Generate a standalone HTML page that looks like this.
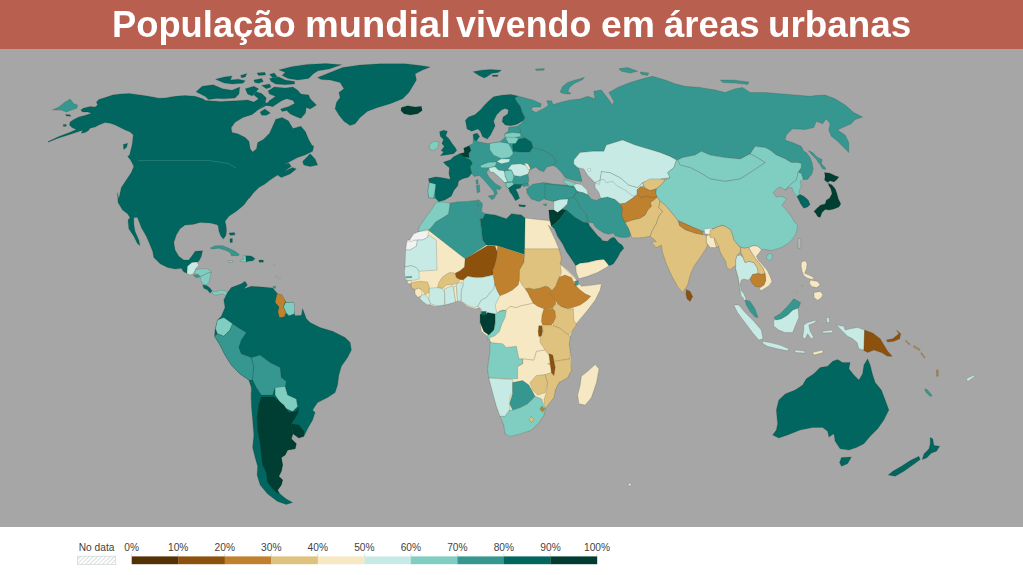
<!DOCTYPE html>
<html lang="pt"><head><meta charset="utf-8"><title>População mundial vivendo em áreas urbanas</title>
<style>
html,body{margin:0;padding:0;background:#fff;}
body{width:1023px;height:575px;position:relative;overflow:hidden;font-family:"Liberation Sans",sans-serif;}
#hdr{position:absolute;left:0;top:0;width:1023px;height:48.5px;background:#B85F4F;}
#ttl{position:absolute;left:0;top:3.5px;width:1023px;height:40px;line-height:40px;color:#fff;font-weight:bold;font-size:37.2px;white-space:nowrap;}
#ttl span{position:absolute;top:0;display:inline-block;transform-origin:0 50%;}
#map{position:absolute;left:0;top:48.5px;width:1023px;height:478px;background:#A6A6A6;}
#mapsvg{position:absolute;left:0;top:0;}
</style></head><body>
<div id="hdr"></div><div id="ttl"><span style="left:112.10px;transform:scaleX(0.9770)">População</span> <span style="left:304.66px;transform:scaleX(1.0223)">mundial</span> <span style="left:456.43px;transform:scaleX(0.9627)">vivendo</span> <span style="left:600.70px;transform:scaleX(1.0039)">em</span> <span style="left:663.75px;transform:scaleX(0.9846)">áreas</span> <span style="left:768.45px;transform:scaleX(0.9902)">urbanas</span></div>
<div id="map"></div>
<svg id="mapsvg" width="1023" height="575" viewBox="0 0 1023 575">
<defs><filter id="sb" x="-2%" y="-2%" width="104%" height="104%"><feGaussianBlur stdDeviation="0.55"/></filter></defs>
<g filter="url(#sb)" stroke-linejoin="round" stroke-width="0.6" stroke="rgba(50,55,40,0.30)">
<polygon fill="#01665E" points="48.1,141.6 58.8,136.6 70.1,132.2 76.3,129.5 71.9,127.6 69.4,125.1 70.1,121.9 73.8,119.4 78.8,116.9 86.3,115.1 91.4,113.2 87.6,111.9 82.6,111.9 80.7,110.1 83.2,108.2 90.1,106.5 95.1,106.9 97.6,105.0 96.4,101.9 98.9,99.4 105.1,97.5 112.6,95.0 120.2,94.0 128.9,93.5 136.4,94.4 144.0,95.6 152.7,96.9 159.0,98.2 165.1,98.0 175.1,96.3 185.1,95.5 195.2,96.3 202.7,98.8 205.4,100.4 221.0,101.5 236.7,100.7 247.6,99.9 253.9,102.0 258.6,98.8 253.9,94.9 256.2,91.8 261.7,93.4 266.4,98.1 264.8,103.5 260.1,108.2 252.3,114.5 242.9,117.6 235.1,122.3 231.2,127.8 232.0,132.5 237.7,133.8 245.2,137.6 249.0,141.3 250.2,148.8 252.7,152.1 256.5,148.8 257.7,142.6 263.3,139.5 269.5,133.3 272.7,126.2 275.8,119.2 282.1,117.6 288.3,120.8 293.0,128.6 300.9,126.2 305.5,131.7 308.7,139.5 311.8,145.0 313.8,146.3 312.6,151.3 305.1,155.1 297.6,157.6 290.1,161.4 283.8,165.1 288.8,163.1 291.3,166.4 283.8,171.4 292.6,167.6 296.3,168.9 290.1,173.9 281.3,177.6 277.5,175.1 270.0,180.1 265.0,183.9 258.8,187.6 253.8,192.6 248.8,198.9 250.2,196.3 243.9,205.0 236.4,211.3 228.9,216.3 225.1,221.3 225.9,225.0 226.6,230.1 225.9,235.6 223.4,239.1 220.9,236.3 218.9,231.3 218.1,225.5 216.4,224.5 210.1,223.0 200.1,222.5 192.6,224.5 185.1,225.0 180.1,228.8 176.3,235.1 173.8,242.6 175.1,250.1 178.8,256.3 183.8,260.1 188.8,260.1 192.6,255.1 195.1,251.3 202.6,250.8 201.4,256.3 198.8,261.3 197.1,262.1 192.1,262.6 187.6,266.3 187.1,273.3 183.8,272.1 181.3,268.3 175.1,269.1 167.6,267.6 160.1,263.8 153.8,257.6 152.6,251.3 150.1,245.1 146.3,236.3 141.3,227.5 137.5,217.5 133.8,217.5 133.8,223.8 135.0,231.3 138.8,240.1 140.0,245.6 137.5,243.8 133.8,236.3 128.8,228.8 128.0,220.0 130.0,217.5 127.5,213.8 122.5,210.0 118.0,202.5 117.5,192.5 118.8,199.0 118.8,198.9 121.3,187.6 126.3,180.1 131.3,172.6 133.8,166.4 130.6,160.1 127.6,156.4 129.6,155.1 130.8,150.1 132.1,145.1 132.7,140.1 133.3,135.1 130.2,132.0 125.2,130.1 120.2,127.6 115.2,125.1 110.1,123.2 105.1,122.6 98.9,125.1 95.1,127.0 90.1,128.2 88.2,130.7 85.1,132.6 81.3,133.2 82.6,130.3 78.8,131.6 71.3,134.1 58.8,137.9 48.1,142.2"/>
<polygon fill="#01665E" points="196.0,91.8 202.2,86.3 213.2,84.7 222.6,88.7 232.0,90.2 239.8,87.1 239.0,94.1 235.1,98.1 224.1,98.8 216.3,98.5 208.5,99.6 205.4,96.5"/>
<polygon fill="#01665E" points="215.5,79.3 224.1,76.9 232.0,76.1 230.4,80.0 238.2,79.3 245.3,80.8 242.9,83.2 232.0,84.0 224.1,82.9"/>
<polygon fill="#01665E" points="240.6,75.4 246.8,73.5 245.3,76.9 241.4,77.7"/>
<polygon fill="#01665E" points="253.9,80.0 261.7,78.5 263.3,81.6 258.6,83.2 254.7,82.4"/>
<polygon fill="#01665E" points="257.0,73.0 264.8,72.2 265.6,75.0 258.6,75.4"/>
<polygon fill="#01665E" points="245.3,88.7 253.9,86.3 258.6,88.7 255.5,92.6 252.3,96.0 247.6,94.1"/>
<polygon fill="#01665E" points="261.7,85.5 269.5,84.0 271.1,87.1 266.4,88.7"/>
<polygon fill="#01665E" points="268.0,91.0 274.2,87.1 285.2,87.9 293.0,87.1 297.7,90.2 300.9,94.1 308.7,94.9 310.2,98.8 316.5,105.1 310.2,109.0 306.3,107.4 305.5,112.9 300.9,118.4 294.6,116.1 289.9,113.7 286.8,110.6 282.1,111.4 280.5,109.0 288.3,106.7 294.6,103.5 293.0,100.4 286.8,98.8 282.1,100.4 277.4,103.5 272.7,106.7 266.4,105.1 269.5,100.4 275.8,96.5 269.5,94.1"/>
<polygon fill="#01665E" points="269.5,78.5 278.9,76.9 285.2,80.0 294.6,81.6 294.6,84.0 285.2,84.7 275.8,84.0 271.1,81.6"/>
<polygon fill="#01665E" points="278.9,69.9 291.5,66.7 307.1,64.4 325.9,63.6 341.6,64.7 329.0,69.1 318.1,70.7 313.4,73.8 308.7,78.5 297.7,80.0 288.3,78.5 282.1,75.4 285.2,72.2"/>
<polygon fill="#01665E" points="269.5,74.6 274.2,73.0 277.4,76.9 272.7,77.7"/>
<polygon fill="#01665E" points="260.1,112.1 264.8,109.0 270.3,112.9 266.4,115.3 261.7,115.3"/>
<polygon fill="#01665E" points="302.6,161.4 310.1,153.8 315.1,158.9 317.6,165.1 310.1,166.4 303.8,165.1"/>
<polygon fill="#01665E" points="317.6,77.5 330.1,72.5 342.6,67.5 360.1,65.0 380.2,63.8 405.2,63.8 420.2,65.5 430.2,67.0 422.7,70.0 415.2,73.8 416.4,80.0 412.7,86.3 408.9,92.5 402.7,98.8 390.2,103.8 377.6,107.6 367.6,111.3 360.1,117.6 355.1,123.8 350.1,125.6 343.9,121.3 338.9,115.1 335.1,108.8 336.4,102.5 340.1,97.5 338.9,92.5 343.9,88.8 340.1,82.5 330.1,80.0 321.3,79.5"/>
<polygon fill="#003C30" points="401.4,107.6 407.7,105.8 415.2,107.1 421.4,106.3 422.2,110.6 417.7,113.8 410.2,115.1 403.9,113.8 400.9,110.6"/>
<polygon fill="#35978F" points="52.5,110.1 58.8,106.9 65.1,101.9 70.1,99.0 73.8,103.8 77.6,105.0 76.9,108.2 71.3,110.1 66.3,111.9 61.3,110.1"/>
<polygon fill="#01665E" points="65.7,114.4 70.1,114.8 70.7,116.3 66.3,116.1"/>
<polygon fill="#01665E" points="63.2,124.5 66.3,124.5 66.3,126.3 63.5,126.6"/>
<polygon fill="#01665E" points="123.3,144.5 127.7,143.2 126.4,147.6 123.7,149.5"/>
<polyline fill="none" stroke="rgba(255,255,255,0.22)" points="137.9,160.5 208.6,160.5 228.2,163.4 236.0,168.0" stroke-width="0.6"/>
<polygon fill="#C7EAE5" points="187.5,266.3 191.9,262.6 196.9,261.9 198.8,265.1 195.7,268.8 193.8,273.2 190.0,275.1 186.9,273.2"/>
<polygon fill="#80CDC1" points="195.7,269.5 201.3,268.8 207.6,268.8 211.3,272.0 207.6,273.2 203.8,275.1 200.1,276.4 198.2,274.5 194.4,273.8"/>
<polygon fill="#35978F" points="193.2,275.1 198.2,274.5 200.1,277.0 195.7,277.6"/>
<polygon fill="#80CDC1" points="200.1,277.0 203.8,275.1 207.6,273.2 211.3,272.3 210.1,277.6 208.8,282.6 206.3,285.1 202.6,283.9 200.7,280.1"/>
<polygon fill="#01665E" points="202.6,285.1 206.3,285.4 209.5,287.6 212.0,290.8 210.1,293.3 207.6,290.1 203.8,288.3"/>
<polygon fill="#80CDC1" points="212.0,290.8 216.3,292.0 220.1,290.1 225.1,290.8 227.6,293.3 226.4,295.8 222.6,293.9 218.8,294.5 215.1,295.1 212.6,293.9"/>
<polygon fill="#35978F" points="210.1,248.2 215.1,245.7 222.6,245.7 228.9,248.2 235.1,251.3 239.5,254.4 238.3,255.7 231.4,255.7 230.1,252.6 225.1,250.1 218.8,248.2 212.6,249.0"/>
<polygon fill="#80CDC1" points="242.6,255.7 245.8,255.7 246.2,261.9 240.1,261.6 240.1,260.1 243.9,259.4"/>
<polygon fill="#01665E" points="245.8,255.7 251.4,256.1 255.2,258.8 252.7,260.7 248.3,261.3 246.2,261.9"/>
<polygon fill="#01665E" points="258.9,260.1 263.3,260.1 263.3,262.3 259.2,262.3"/>
<polygon fill="#8fc9c0" points="228.2,260.7 232.6,260.4 232.9,262.3 228.6,262.6"/>
<polygon fill="#01665E" points="228.9,233.1 234.5,232.5 234.9,235.0 230.1,235.3"/>
<polygon fill="#01665E" points="229.9,238.8 232.4,238.5 232.4,242.5 230.1,242.5"/>
<polygon fill="#35978F" points="273.0,286.4 275.5,286.1 275.5,288.3 273.2,288.3"/>
<polygon fill="#01665E" points="227.5,292.5 231.3,287.5 241.3,283.8 245.0,281.3 247.5,285.0 243.8,288.8 251.3,286.3 262.6,287.0 272.6,288.0 277.6,293.8 282.6,297.5 286.3,302.5 293.8,302.5 296.3,307.5 301.4,313.8 302.6,308.8 306.4,318.8 310.1,322.6 320.1,327.6 332.6,331.3 345.1,337.6 350.2,342.6 351.4,350.1 347.6,357.6 341.4,366.3 338.9,375.1 337.6,385.1 335.1,392.6 327.6,397.6 317.6,402.6 312.6,410.1 315.1,412.5 312.6,420.0 307.6,428.8 303.9,436.3 298.8,437.6 293.1,433.8 291.3,438.8 296.3,443.8 295.1,448.8 287.6,450.1 285.1,455.1 281.3,457.6 282.6,465.1 281.3,471.3 278.8,476.3 282.6,480.1 281.3,485.1 277.6,490.1 280.1,493.9 286.3,498.9 292.6,502.6 286.3,504.4 277.6,501.4 267.6,493.9 260.1,485.1 257.1,475.1 257.6,466.3 255.1,457.6 252.6,447.6 253.8,435.1 252.6,420.0 251.3,405.0 251.3,392.5 251.3,400.1 251.3,387.6 248.8,380.1 240.0,373.9 231.3,365.1 225.0,355.1 220.0,345.1 214.5,336.3 215.0,330.1 217.5,320.1 221.3,316.3 225.0,307.5 223.8,300.0"/>
<polygon fill="#BF812D" points="277.0,293.8 282.0,294.8 285.4,301.3 283.6,306.9 286.1,312.8 284.1,317.1 279.5,317.6 277.9,311.9 279.1,306.9 275.1,302.3"/>
<polygon fill="#80CDC1" points="285.4,302.5 293.9,302.3 294.7,308.8 293.9,314.1 288.9,315.7 286.1,312.8 283.6,306.9"/>
<polygon fill="#A6A6A6" points="294.2,301.3 296.4,303.2 301.7,312.8 301.2,315.3 295.2,315.6 294.4,313.8" stroke="none"/>
<polygon fill="#80CDC1" points="217.5,320.1 223.8,317.5 232.5,323.8 230.0,330.1 223.8,336.3 217.5,333.8 215.5,328.8"/>
<polygon fill="#35978F" points="214.5,336.3 217.5,333.8 223.8,336.3 230.0,330.1 232.5,323.8 240.0,328.8 246.3,332.6 241.3,340.1 238.8,347.6 241.3,353.8 251.3,357.6 253.8,366.3 252.6,380.1 248.8,380.1 240.0,373.9 231.3,365.1 225.0,355.1 220.0,345.1"/>
<polygon fill="#35978F" points="251.3,357.6 260.1,355.1 270.1,362.6 280.1,367.6 281.3,377.6 286.3,381.4 285.1,387.6 275.1,387.6 272.6,395.1 261.3,395.1 256.3,387.6 252.6,380.1 253.8,366.3"/>
<polygon fill="#80CDC1" points="275.1,387.6 285.1,386.4 287.6,395.1 296.3,398.9 297.6,406.4 292.6,411.4 283.8,407.6 275.1,395.1"/>
<polygon fill="#003C30" points="261.3,397.0 273.8,397.0 283.8,405.0 288.8,412.5 296.3,411.3 298.8,407.5 297.6,413.8 293.8,420.0 291.3,423.8 292.6,433.8 291.3,438.8 296.3,443.8 295.1,448.8 287.6,450.1 285.1,455.1 281.3,457.6 282.6,465.1 281.3,471.3 278.8,476.3 282.6,480.1 281.3,485.1 277.6,490.1 278.8,493.9 273.8,490.1 267.6,482.6 266.3,472.6 262.6,465.1 261.3,455.1 260.1,442.6 257.6,430.1 257.1,417.5 258.8,405.0"/>
<polygon fill="#003C30" points="291.3,423.8 298.8,425.0 303.9,431.3 303.9,436.3 298.8,438.1 293.1,433.8"/>
<polygon fill="#F6E8C3" points="447.6,204.5 457.6,202.0 470.1,201.3 478.8,200.0 482.6,203.8 481.3,211.3 485.1,213.8 495.1,215.0 506.4,218.8 511.4,213.8 521.4,215.0 525.1,218.0 537.6,219.5 547.7,220.5 553.9,222.0 552.7,228.8 548.2,225.0 555.2,240.0 558.9,248.8 561.4,258.8 560.2,263.8 567.7,270.1 575.2,277.6 577.7,282.6 581.4,286.3 592.7,285.1 601.5,283.8 600.2,290.1 595.2,300.1 587.7,310.1 580.2,318.9 575.2,325.1 572.7,330.1 570.2,336.4 568.9,343.9 569.7,347.5 570.2,351.3 571.4,360.1 571.4,370.1 567.7,377.6 558.9,382.6 555.2,390.1 553.9,397.6 548.9,403.8 545.2,408.8 543.9,415.1 538.9,422.6 531.4,430.1 520.1,433.9 510.1,436.4 505.1,433.9 503.9,425.1 500.1,416.4 496.4,406.3 493.8,395.1 491.3,385.1 488.8,377.6 487.6,368.8 488.8,360.1 490.1,351.3 491.3,343.8 488.8,337.5 481.3,331.3 480.1,322.5 481.3,315.1 480.1,307.6 475.1,308.9 467.6,306.4 461.3,301.4 453.8,301.4 445.1,305.1 435.0,306.4 427.5,303.9 420.0,296.3 415.0,290.1 410.0,282.6 406.3,275.1 405.0,266.3 407.5,257.6 406.3,248.8 408.8,241.3 413.8,233.8 420.0,231.3 426.3,223.8 430.0,217.5 438.8,210.0"/>
<polygon fill="#35978F" points="446.3,203.8 457.6,202.0 470.1,201.3 478.8,200.0 477.6,207.5 475.1,213.8 480.1,218.8 481.3,227.5 482.6,240.0 486.3,245.0 465.1,258.8 428.8,230.5 427.0,227.0 431.3,223.0 437.5,219.5 443.8,215.5 447.6,212.0 447.1,207.0"/>
<polygon fill="#35978F" points="478.8,200.0 482.6,203.8 481.3,211.3 485.1,213.8 482.6,218.8 480.1,218.8 475.1,213.8 477.6,207.5"/>
<polygon fill="#01665E" points="485.1,213.8 495.1,215.0 506.4,218.8 511.4,213.8 521.4,215.0 525.1,218.0 524.6,254.6 497.6,245.8 486.3,245.0 482.6,240.0 481.3,227.5 480.1,218.8 482.6,218.8"/>
<polygon fill="#f2f2f2" points="407.5,240.0 417.5,240.0 416.3,246.3 410.0,250.0 405.6,250.0 406.5,243.8"/>
<polygon fill="#f2f2f2" points="420.0,231.3 413.8,233.8 408.8,241.3 412.5,241.3 413.8,240.0 422.5,240.0 427.5,237.5 428.8,230.5"/>
<polygon fill="#C7EAE5" points="405.6,250.0 410.0,250.0 416.3,246.3 417.5,240.0 422.5,240.0 427.5,237.5 428.8,235.0 436.3,240.0 437.0,270.1 418.8,271.3 416.3,267.6 411.3,265.7 405.6,266.9 405.0,265.1"/>
<polygon fill="#C7EAE5" points="405.0,266.9 411.3,265.7 416.3,267.6 418.8,271.3 419.4,278.8 415.0,280.1 407.5,280.7 405.0,278.8 404.4,271.3"/>
<polygon fill="#35978F" points="405.6,276.7 411.9,276.4 411.9,277.6 405.6,277.8"/>
<polygon fill="#F6E8C3" points="406.9,280.7 411.3,280.7 411.9,283.8 408.2,283.8"/>
<polygon fill="#DFC27D" points="410.7,283.2 415.0,282.0 420.1,281.3 427.6,282.0 429.4,287.0 428.8,292.6 425.1,294.5 422.6,290.1 418.8,288.2 415.0,289.5 411.9,288.2"/>
<polygon fill="#F6E8C3" points="415.0,289.5 418.8,288.2 421.9,290.7 421.9,295.1 418.2,297.6 415.0,293.9"/>
<polygon fill="#C7EAE5" points="421.9,295.1 425.1,294.5 428.8,298.9 430.7,303.9 427.6,305.1 423.2,302.0 419.4,298.2"/>
<polygon fill="#DFC27D" points="437.6,287.0 438.8,282.6 442.0,277.6 445.1,275.1 449.5,272.6 453.9,272.8 456.4,277.6 460.1,279.5 457.6,283.2 452.6,284.5 446.4,285.1 442.6,288.2 438.2,288.2"/>
<polygon fill="#8C510A" points="465.1,258.8 487.7,245.6 495.2,246.3 497.7,253.8 495.8,262.5 493.9,270.1 492.7,275.1 487.7,276.3 481.4,277.6 475.2,277.6 467.6,276.3 463.3,280.1 460.1,279.5 456.4,277.6 455.1,273.2 460.1,270.7 464.5,266.9"/>
<polygon fill="#C7EAE5" points="429.4,288.2 437.6,287.6 442.6,288.8 444.5,292.6 444.5,305.1 437.6,305.8 430.7,303.9 428.8,298.9 429.4,292.6"/>
<polygon fill="#C7EAE5" points="444.5,288.8 452.6,285.7 453.9,290.1 455.7,301.4 453.9,302.6 445.1,305.1 444.5,292.6"/>
<polygon fill="#F6E8C3" points="453.9,286.3 456.4,286.3 457.6,301.4 455.7,301.6 453.9,290.1"/>
<polygon fill="#C7EAE5" points="456.4,283.8 461.4,282.0 463.3,285.1 461.4,290.1 460.8,300.7 457.6,301.4 456.4,286.3"/>
<polygon fill="#C7EAE5" points="463.3,280.1 467.6,276.3 475.2,277.6 481.4,277.6 487.7,276.3 492.7,275.1 495.2,282.6 493.9,288.8 490.2,292.6 486.4,297.6 481.4,300.1 477.7,306.4 473.9,307.6 467.6,305.1 461.4,301.4 461.4,290.1 463.3,285.1"/>
<polygon fill="#C7EAE5" points="495.2,282.6 497.1,290.1 500.2,295.1 497.7,300.1 495.2,305.1 496.5,312.0 498.9,312.6 495.1,313.9 481.3,315.1 481.3,312.1 481.4,308.9 477.7,306.4 481.4,300.1 486.4,297.6 490.2,292.6 493.9,288.8"/>
<polygon fill="#BF812D" points="497.6,245.8 524.6,255.1 523.9,262.6 520.1,270.1 519.4,280.0 518.2,285.0 512.5,290.0 506.3,293.2 500.0,295.7 497.5,291.3 495.0,285.0 493.8,277.5 492.5,270.0 493.8,267.6 496.4,258.8"/>
<polygon fill="#DFC27D" points="524.6,248.8 558.9,248.8 561.4,258.8 560.2,263.8 561.4,272.5 559.5,276.9 557.6,281.3 555.8,286.3 552.6,290.0 552.0,290.7 548.9,287.5 545.7,286.3 540.1,288.2 533.8,289.4 528.8,288.2 525.1,288.8 522.6,285.7 519.4,280.0 519.4,270.0 523.9,262.6 524.6,255.1"/>
<polygon fill="#BF812D" points="525.1,288.8 528.8,288.2 533.8,289.4 540.1,288.2 545.7,286.3 548.9,287.5 552.0,290.7 550.1,293.8 552.0,296.9 555.1,300.1 555.8,303.8 552.6,307.6 547.6,309.5 543.9,308.8 537.6,306.3 533.2,303.2 530.1,297.6 527.6,292.5"/>
<polygon fill="#BF812D" points="559.5,276.9 565.2,275.0 571.4,277.5 573.9,282.5 576.4,286.3 580.2,290.0 585.2,293.8 590.8,296.3 586.4,300.7 580.2,305.1 572.7,307.6 567.7,308.8 562.0,306.9 557.6,303.8 555.1,300.1 552.0,296.9 550.1,293.8 552.6,290.0 555.8,286.3 557.6,281.3"/>
<polygon fill="#35978F" points="574.5,281.3 578.3,280.6 578.3,285.0 575.2,285.7"/>
<polygon fill="#BF812D" points="543.9,309.1 547.6,309.8 552.6,308.2 555.1,311.3 555.8,317.6 553.3,322.6 551.4,325.1 542.6,325.1 541.4,321.4 542.0,315.1"/>
<polygon fill="#DFC27D" points="555.8,303.8 557.6,304.4 562.0,306.9 567.7,308.8 573.3,308.8 573.9,320.1 576.4,325.1 572.7,330.1 568.9,335.1 565.2,332.6 559.5,328.2 553.3,325.7 553.3,322.6 555.8,317.6 555.1,311.3 552.6,308.2"/>
<polygon fill="#8C510A" points="538.8,325.7 542.0,325.7 542.6,331.4 541.4,335.8 538.8,336.4 538.2,331.4"/>
<polygon fill="#DFC27D" points="542.6,325.7 553.3,325.7 559.5,328.2 565.2,332.6 568.9,335.1 570.2,337.0 569.2,344.5 570.2,351.3 570.2,358.8 555.2,361.3 548.9,355.0 545.2,350.0 540.1,342.5 540.1,336.3 539.5,337.0 542.0,335.8 542.9,331.4"/>
<polygon fill="#80CDC1" points="493.8,316.3 497.5,312.6 502.5,310.1 506.3,310.7 505.0,317.6 501.9,323.9 499.4,331.4 495.0,335.8 490.0,337.6 487.5,340.1 486.9,337.0 490.0,329.5 492.5,328.9 495.0,325.1"/>
<polyline fill="none" stroke="rgba(90,80,50,0.5)" points="498.8,311.3 506.3,310.1 510.0,306.3 516.3,307.6 521.3,305.7 527.6,304.4 533.2,303.2" stroke-width="0.6"/>
<polyline fill="none" stroke="rgba(90,80,50,0.5)" points="517.6,366.3 522.6,363.8 522.6,358.8 533.9,360.1 536.4,351.3 545.2,350.0" stroke-width="0.6"/>
<polyline fill="none" stroke="rgba(90,80,50,0.5)" points="560.2,263.8 567.7,271.3 575.2,278.8" stroke-width="0.5"/>
<polygon fill="#003C30" points="480.1,313.9 485.1,315.1 487.6,312.6 495.1,313.9 495.1,322.6 493.8,330.1 488.8,335.1 483.8,331.4 480.1,322.6"/>
<polygon fill="#01665E" points="481.3,311.4 486.3,311.4 486.3,315.1 481.3,315.1"/>
<polygon fill="#80CDC1" points="490.1,342.5 502.6,343.8 506.4,347.5 516.4,346.3 518.9,358.8 522.6,358.8 522.6,363.8 517.6,366.3 517.6,378.8 488.8,378.1 487.6,368.8 489.6,355.0"/>
<polygon fill="#C7EAE5" points="488.8,378.1 512.6,379.6 512.6,392.6 510.1,396.3 509.6,410.1 505.1,416.4 500.1,416.4 496.4,406.3 492.6,392.6"/>
<polygon fill="#80CDC1" points="500.1,416.4 505.1,416.4 509.6,410.1 512.6,410.1 520.1,407.6 527.6,403.8 535.1,396.3 541.4,398.8 545.2,408.8 543.9,415.1 538.9,422.6 531.4,430.1 520.1,433.9 510.1,436.4 505.1,433.9 503.9,425.1"/>
<polygon fill="#35978F" points="512.6,382.6 522.6,380.6 528.9,385.1 535.1,396.3 527.6,403.8 520.1,407.6 512.6,410.1 509.6,403.8 512.6,393.8"/>
<polygon fill="#DFC27D" points="531.4,416.4 533.9,419.4 531.4,422.6 528.9,419.4"/>
<polygon fill="#BF812D" points="541.4,406.3 544.6,408.8 542.6,412.1 540.1,409.6"/>
<polygon fill="#DFC27D" points="530.1,382.6 536.4,375.6 545.2,374.6 547.7,382.6 545.2,392.6 537.6,395.1 532.6,390.1"/>
<polygon fill="#DFC27D" points="547.7,363.8 555.2,361.3 570.2,358.8 571.4,370.1 567.7,377.6 558.9,382.6 555.2,390.1 553.9,397.6 548.9,403.8 545.2,408.8 543.9,400.1 546.4,392.6 547.7,382.6 545.2,374.6 551.4,372.6 552.7,366.3"/>
<polygon fill="#8C510A" points="548.9,353.8 552.7,355.0 555.2,367.6 553.9,375.6 551.4,372.6 550.2,363.8"/>
<polygon fill="#F6E8C3" points="595.2,364.6 599.0,368.8 596.5,382.6 591.4,397.6 585.2,405.1 578.9,403.8 577.7,395.1 580.2,385.1 581.4,376.3 587.7,371.3"/>
<polygon fill="#35978F" points="517.8,96.0 523.3,97.6 532.7,99.9 541.3,103.8 540.5,107.0 532.7,107.0 531.2,110.1 535.9,112.4 543.7,108.5 548.4,105.4 546.8,100.7 551.5,100.7 553.1,104.6 560.9,102.3 570.3,99.9 580.0,99.1 587.5,96.3 595.0,98.8 593.8,91.3 601.3,90.0 606.3,96.3 612.6,105.1 613.8,101.3 608.8,92.5 617.6,87.5 630.1,82.5 642.6,78.8 652.6,76.3 665.1,80.0 675.1,83.8 685.1,86.3 700.1,87.5 715.2,90.0 725.2,92.5 735.2,88.8 742.7,87.5 750.2,92.5 765.2,92.5 780.2,93.8 795.2,95.0 810.3,96.3 815.6,95.5 825.1,95.0 835.1,98.8 845.1,105.1 853.8,112.6 862.6,117.1 855.1,119.6 851.3,123.8 842.6,127.6 837.6,130.1 845.1,135.1 848.8,142.6 848.8,152.6 843.8,147.6 837.6,141.3 831.3,136.3 828.8,130.1 830.1,123.8 826.3,118.8 822.6,123.8 816.3,121.3 813.8,127.6 805.0,129.6 792.5,128.8 786.3,135.1 785.0,140.1 792.5,142.6 801.3,146.3 803.8,151.3 806.3,152.5 810.1,157.5 812.0,162.5 813.2,168.8 812.0,173.8 807.6,179.4 803.2,179.4 801.3,173.2 798.2,171.9 801.3,167.5 801.3,163.2 797.6,162.5 791.3,162.5 785.1,158.8 776.3,155.0 770.0,150.0 765.2,147.6 755.2,146.3 750.2,153.8 740.2,158.9 725.2,157.6 710.2,155.1 701.4,151.3 695.1,155.1 682.6,157.6 677.6,160.1 670.1,156.4 660.1,152.6 647.6,148.8 635.1,145.1 622.6,140.1 606.3,145.1 603.8,151.3 592.5,151.3 580.0,152.6 573.8,160.1 576.3,165.1 578.8,168.9 580.5,175.1 582.0,181.4 575.0,180.6 565.5,178.1 560.9,171.7 556.2,167.0 553.1,165.4 556.2,160.7 551.5,155.2 543.7,150.5 535.9,149.0 532.7,147.4 531.2,141.9 524.9,138.0 520.2,133.3 520.2,133.3 520.2,129.4 517.1,126.5 522.5,122.6 522.5,121.1 524.9,117.9 521.8,111.7 520.2,106.2 517.1,102.3 514.7,98.4"/>
<polygon fill="#35978F" points="560.1,92.1 562.5,86.6 567.2,82.7 573.4,80.4 580.0,78.8 584.4,77.2 582.8,79.6 574.2,83.5 569.5,87.4 567.9,91.3 571.1,93.7 567.2,94.1 562.5,93.2"/>
<polygon fill="#35978F" points="535.1,69.1 544.5,68.6 543.7,70.2 536.6,70.6"/>
<polygon fill="#35978F" points="618.8,68.8 627.6,67.5 637.6,71.3 630.1,73.0 621.3,71.3"/>
<polygon fill="#35978F" points="640.1,72.0 648.8,73.0 647.6,75.5 641.3,74.5"/>
<polygon fill="#35978F" points="720.2,80.0 732.7,80.0 748.9,82.0 747.7,84.5 735.2,83.0 722.7,82.5"/>
<polygon fill="#35978F" points="808.2,150.6 812.6,152.5 817.6,157.5 822.0,159.4 821.4,163.8 825.1,167.5 825.8,169.4 822.6,168.8 819.5,163.8 816.4,159.4 812.6,155.6"/>
<polygon fill="#01665E" points="465.4,120.3 467.0,128.9 471.7,131.2 477.9,128.9 480.3,131.2 482.6,136.7 487.3,139.1 490.5,135.1 492.8,130.5 495.1,125.8 493.6,121.1 496.7,114.8 501.4,110.1 505.3,108.5 508.5,110.1 507.7,114.0 503.0,117.1 502.2,121.8 505.3,125.0 510.8,125.8 517.1,124.2 522.5,121.1 524.9,117.9 521.8,111.7 520.2,106.2 517.1,102.3 514.7,98.4 517.8,96.0 510.8,94.4 501.4,95.2 493.6,96.8 488.9,100.7 484.2,105.4 480.3,110.1 474.8,114.8 468.5,117.1"/>
<polygon fill="#01665E" points="473.2,71.7 481.1,70.2 490.5,69.4 501.4,70.2 498.3,72.5 492.0,73.3 487.3,76.4 484.2,78.0 479.5,75.7"/>
<polygon fill="#01665E" points="492.0,74.9 498.3,74.9 497.5,76.4 492.8,76.4"/>
<polygon fill="#35978F" points="463.8,148.2 469.3,145.8 470.1,145.0 473.2,143.5 473.2,134.4 477.1,133.3 479.5,136.4 476.4,141.1 479.5,141.9 487.3,143.5 489.7,143.5 499.8,141.9 505.3,137.2 504.5,134.1 508.5,131.0 508.5,127.5 517.1,126.3 520.2,129.4 520.2,133.3 524.9,138.0 531.2,141.9 532.7,147.4 535.9,149.0 543.7,150.5 551.5,155.2 556.2,160.7 553.1,165.4 546.8,167.0 543.7,171.7 539.0,170.1 535.9,167.0 529.6,170.1 528.0,174.0 528.8,180.3 528.0,183.4 523.3,186.5 521.8,184.5 520.2,188.1 515.5,188.9 517.8,193.6 519.4,198.3 515.5,200.6 512.4,195.1 510.0,192.0 508.5,188.1 506.1,186.5 506.1,182.6 504.5,182.6 498.3,176.4 493.6,172.4 489.7,171.7 488.9,168.5 486.5,172.4 488.9,177.1 495.1,183.4 501.4,187.3 499.8,189.7 495.9,188.9 497.5,193.6 495.1,195.9 493.6,191.2 488.9,185.8 484.2,180.3 479.5,175.6 474.0,176.4 471.7,173.2 468.5,177.1 462.3,178.7 458.4,181.1 457.6,185.8 453.7,190.5 451.3,195.9 445.0,199.8 438.8,201.4 435.7,198.3 433.3,198.3 428.6,197.5 427.8,190.5 429.4,182.6 428.6,178.7 435.7,177.1 442.7,177.9 450.5,179.5 449.0,173.2 449.7,167.7 446.6,165.4 443.5,162.3 450.5,159.9 453.7,156.8 459.9,153.7 464.6,152.9"/>
<polygon fill="#01665E" points="439.6,131.7 443.5,130.2 447.4,131.3 445.8,135.7 449.0,138.8 452.1,143.5 455.2,147.4 456.8,150.5 453.7,153.7 447.4,154.8 440.4,155.7 443.5,152.1 441.1,150.5 444.3,146.6 441.9,143.5 443.5,139.6 440.4,136.4"/>
<polygon fill="#80CDC1" points="429.4,145.0 434.1,141.1 438.8,141.9 438.0,147.4 433.3,150.5 429.1,149.0"/>
<polygon fill="#01665E" points="443.5,162.3 450.5,159.9 453.7,156.8 459.9,153.7 463.8,156.8 470.1,159.9 472.4,163.1 470.1,167.0 471.7,173.2 468.5,177.1 462.3,178.7 458.4,181.1 450.5,179.5 449.0,173.2 449.7,167.7 446.6,165.4"/>
<polygon fill="#01665E" points="428.6,178.7 435.7,177.1 442.7,177.9 450.5,179.5 458.4,181.1 457.6,185.8 453.7,190.5 451.3,195.9 445.0,199.8 438.8,201.4 435.7,198.3 434.9,192.0 435.7,184.2 429.4,182.6"/>
<polygon fill="#80CDC1" points="429.4,182.6 435.7,184.2 434.9,192.0 433.3,198.3 428.6,197.5 427.8,190.5"/>
<polygon fill="#003C30" points="463.8,148.2 469.3,145.8 470.9,150.5 468.5,153.7 469.3,157.6 463.8,156.8 459.9,153.7 464.6,152.6"/>
<polygon fill="#01665E" points="473.2,134.4 477.1,133.3 479.5,136.4 476.4,141.1 474.0,139.6"/>
<polygon fill="#80CDC1" points="489.7,143.5 499.8,141.9 508.5,143.5 511.6,149.0 513.2,153.7 509.2,157.6 501.4,158.4 493.6,155.2 489.7,149.7"/>
<polygon fill="#80CDC1" points="480.3,165.4 488.9,162.3 496.7,162.0 495.1,166.2 488.9,167.7 481.1,167.7"/>
<polygon fill="#C7EAE5" points="496.7,161.5 501.4,158.8 510.0,159.1 509.2,162.0 501.4,163.8"/>
<polygon fill="#C7EAE5" points="488.9,167.7 495.1,166.7 498.3,170.1 504.5,170.9 505.3,176.4 507.7,181.8 504.5,182.6 498.3,176.4 493.6,172.4 489.7,171.7"/>
<polygon fill="#80CDC1" points="504.5,170.9 511.6,170.1 513.9,176.4 512.4,181.8 507.7,181.8 505.3,176.4"/>
<polygon fill="#C7EAE5" points="507.7,169.3 511.6,164.6 520.2,163.8 526.5,165.4 529.6,170.1 528.0,174.0 520.2,176.4 513.9,175.6 511.6,170.1"/>
<polygon fill="#F6E8C3" points="524.1,163.1 528.0,163.8 530.4,168.5 528.8,170.1"/>
<polygon fill="#01665E" points="508.5,188.1 513.9,184.2 521.8,184.5 520.2,188.1 515.5,188.9 517.8,193.6 519.4,198.3 515.5,200.6 512.4,195.1 510.0,192.0"/>
<polygon fill="#01665E" points="518.6,204.5 525.7,205.3 524.9,206.9 519.4,206.4"/>
<polygon fill="#80CDC1" points="506.1,182.6 512.4,182.3 513.9,184.2 508.5,188.1 506.1,186.5"/>
<polygon fill="#01665E" points="512.4,145.0 517.1,139.6 524.9,138.0 531.2,141.9 532.7,147.4 529.6,152.1 520.2,152.1 513.2,151.3"/>
<polygon fill="#80CDC1" points="505.3,137.2 513.9,136.4 518.6,138.8 515.5,143.5 508.5,143.5"/>
<polygon fill="#80CDC1" points="504.5,134.1 512.4,132.5 520.2,133.3 521.0,136.4 513.9,137.5 505.3,137.2"/>
<polygon fill="#35978F" points="488.1,195.9 494.4,195.1 495.1,197.5 492.0,199.8"/>
<polygon fill="#35978F" points="476.4,185.8 479.5,185.0 479.8,192.0 477.1,192.8"/>
<polygon fill="#35978F" points="476.0,180.3 477.9,179.5 478.2,184.2 476.4,184.2"/>
<polygon fill="#35978F" points="521.8,184.2 528.0,183.4 528.8,185.8 523.3,186.5"/>
<polygon fill="#35978F" points="526.5,188.9 532.7,184.2 543.7,182.6 554.6,184.2 565.6,185.0 575.0,185.8 579.7,190.5 578.1,195.1 570.3,196.7 560.9,197.5 553.1,199.8 545.2,198.3 539.0,201.4 531.2,199.1 527.2,193.6"/>
<polygon fill="#35978F" points="542.9,204.5 546.8,203.8 546.0,206.1"/>
<polygon fill="#80CDC1" points="563.8,179.4 570.1,181.3 576.3,183.8 575.1,186.3 568.8,185.7 563.8,182.6"/>
<polygon fill="#C7EAE5" points="573.8,185.1 576.3,183.8 581.3,184.4 587.0,190.1 588.2,195.1 582.6,192.6 577.6,191.3 574.4,188.2"/>
<polygon fill="#35978F" points="545.0,183.8 562.5,185.7 568.8,186.3 575.1,187.6 576.3,192.6 573.8,197.0 568.2,199.1 560.0,199.5 553.8,201.4 545.0,199.5"/>
<polygon fill="#C7EAE5" points="553.8,201.4 560.0,199.5 568.2,199.1 567.5,203.9 562.5,208.9 557.5,212.6 553.8,210.1"/>
<polygon fill="#003C30" points="548.8,210.0 553.8,210.0 557.5,212.6 562.5,208.9 566.3,210.0 560.0,218.8 555.0,223.8 551.3,226.3 549.5,218.8"/>
<polygon fill="#35978F" points="568.2,199.1 573.8,197.0 578.2,202.6 581.3,208.9 586.3,213.9 588.7,221.3 583.7,222.5 575.1,217.5 566.3,210.0 562.5,208.9 567.5,203.9"/>
<polygon fill="#01665E" points="551.3,226.3 555.0,223.8 560.0,218.8 566.3,210.0 575.1,217.5 583.7,222.5 588.2,222.5 589.5,225.7 592.0,228.8 595.1,232.6 598.2,236.3 600.1,237.6 602.6,240.7 607.6,241.3 610.1,238.8 612.6,237.6 614.5,237.6 618.3,242.6 622.0,245.1 623.9,248.2 620.2,252.6 617.6,257.6 613.3,263.9 608.9,265.8 606.4,262.6 603.9,259.5 597.6,260.1 587.6,262.6 580.1,263.3 575.7,265.8 573.8,262.6 570.1,257.0 566.3,251.4 562.5,243.8 557.5,236.3 554.4,228.8"/>
<polygon fill="#F6E8C3" points="575.7,265.8 580.1,263.3 587.6,262.6 597.6,260.1 603.9,259.5 606.4,262.6 608.9,265.8 606.2,267.6 597.5,272.5 587.5,276.3 578.8,278.8 576.3,272.5"/>
<polygon fill="#35978F" points="573.8,197.0 576.3,192.6 582.6,192.6 588.2,195.3 591.3,199.1 596.4,200.4 600.7,198.2 607.6,197.0 615.1,199.5 620.2,203.9 622.7,208.9 621.4,215.1 622.7,215.0 625.2,220.0 626.4,224.4 628.9,228.2 631.4,232.6 630.2,236.3 626.4,237.6 620.2,237.2 615.1,235.7 613.3,232.9 608.9,234.2 603.9,232.9 598.9,229.8 595.1,226.7 593.2,222.9 588.2,222.3 586.3,213.9 581.3,208.9 578.2,202.6"/>
<polygon fill="#C7EAE5" points="595.0,182.4 595.1,187.6 598.9,192.6 600.7,198.2 607.6,197.0 615.1,199.5 620.2,203.9 625.2,203.2 632.7,198.2 637.1,193.8 637.1,190.1 640.2,186.9 643.9,185.7 642.7,182.8 637.4,187.4 628.8,185.1 620.1,177.6 610.1,172.6 601.3,171.4 600.0,180.1 595.0,182.6"/>
<polyline fill="none" stroke="rgba(90,110,110,0.55)" points="595.1,183.2 599.5,184.4 600.1,180.1 603.9,179.4 606.4,182.6 612.6,181.3 617.6,186.3 625.2,190.1 631.4,195.1 635.2,197.0" stroke-width="0.5"/>
<polygon fill="#DFC27D" points="642.7,182.8 649.0,178.2 657.7,178.2 665.2,180.1 661.5,184.4 656.5,188.8 650.2,190.7 645.2,188.2 643.9,185.7"/>
<polygon fill="#BF812D" points="637.1,190.1 640.2,186.9 645.2,188.2 650.2,190.7 656.5,188.8 655.8,193.2 657.1,197.0 651.5,197.6 646.5,196.3 641.4,197.6 637.7,194.5"/>
<polygon fill="#BF812D" points="620.2,203.9 625.2,203.2 632.7,198.2 637.7,195.1 641.4,197.6 646.5,196.3 651.5,197.6 657.1,197.0 654.0,200.1 650.2,202.6 651.5,206.4 647.7,210.1 645.2,215.1 640.2,218.3 632.7,220.1 625.1,222.6 621.4,215.1 622.7,208.9"/>
<polygon fill="#C7EAE5" points="573.8,160.1 580.0,152.6 592.5,151.3 603.8,151.3 606.3,145.1 622.6,140.1 635.1,145.1 647.6,148.8 660.1,152.6 670.1,156.4 676.4,160.1 673.9,167.6 667.6,172.6 670.1,177.6 660.1,178.9 650.1,178.9 642.6,182.6 637.6,187.6 628.8,185.1 620.1,177.6 610.1,172.6 601.3,171.4 600.0,180.1 595.0,182.6 587.5,175.1 583.8,168.9 577.5,167.6 573.8,163.9"/>
<polygon fill="#80CDC1" points="677.6,160.1 682.6,157.6 695.1,155.1 701.4,151.3 710.2,155.1 725.2,157.6 740.2,158.9 750.2,153.8 757.7,157.6 765.2,162.6 757.7,167.6 750.2,172.6 740.2,178.9 725.2,181.4 710.2,178.9 700.1,172.6 690.1,167.6 680.1,165.1"/>
<polygon fill="#80CDC1" points="676.4,160.1 677.6,160.1 680.1,165.1 690.1,167.6 700.1,172.6 710.2,178.9 725.2,181.4 740.2,178.9 750.2,172.6 757.7,167.6 765.2,162.6 757.7,157.6 750.2,153.8 755.2,146.3 765.2,147.6 770.0,150.0 776.3,155.0 785.1,158.8 791.3,162.5 797.6,162.5 801.3,163.2 801.3,167.5 798.2,171.9 797.6,175.1 796.3,180.1 791.3,183.8 785.1,190.1 781.3,187.6 778.8,186.9 773.2,192.6 776.3,197.0 781.9,196.3 786.9,198.8 783.8,202.6 781.9,205.1 786.3,210.1 791.3,216.4 794.4,222.0 797.7,225.0 796.4,232.5 792.7,238.8 787.7,243.8 781.4,247.5 775.1,249.4 771.4,250.7 768.9,250.1 765.1,249.4 761.4,249.4 757.6,246.3 753.2,245.7 748.8,247.5 744.4,248.2 741.3,247.5 736.9,243.8 733.8,240.0 732.5,235.0 730.7,230.0 726.3,226.9 722.5,225.0 718.9,226.3 710.2,230.1 702.6,231.3 696.4,228.8 685.1,223.8 677.6,220.1 671.4,212.5 665.1,205.0 660.1,201.3 657.1,197.0 655.8,193.2 656.5,188.8 661.5,184.4 665.2,180.1 670.1,177.6 667.6,172.6 673.9,167.6"/>
<polygon fill="#80CDC1" points="798.2,172.3 801.3,173.2 803.2,179.4 800.1,181.3 801.3,186.3 799.5,190.1 798.8,195.1 796.9,196.3 793.8,192.6 791.9,187.6 788.8,187.6 785.1,190.1 791.3,183.8 796.3,180.1 797.6,175.1"/>
<polygon fill="#01665E" points="796.9,196.6 800.1,194.5 803.8,196.3 808.2,200.1 810.1,204.5 807.6,207.0 803.8,208.2 800.7,203.9 798.8,200.1"/>
<polygon fill="#003C30" points="824.5,172.5 830.1,173.2 835.2,175.7 838.9,176.9 836.4,180.1 833.9,181.9 830.1,180.7 827.6,182.6 824.5,180.1 825.1,176.3"/>
<polygon fill="#003C30" points="828.3,183.2 832.0,185.1 835.2,188.8 837.0,193.8 838.3,198.8 840.8,203.9 838.9,207.0 833.9,208.9 829.5,210.1 825.1,209.5 822.0,212.6 820.1,217.6 817.6,216.4 815.7,213.3 813.9,211.4 817.0,208.2 820.7,205.1 825.1,203.9 826.4,200.1 829.5,198.2 832.0,193.8 830.8,188.8 828.9,185.7"/>
<polygon fill="#DFC27D" points="657.1,197.0 654.1,200.0 650.3,202.5 651.6,206.3 647.8,210.0 645.3,215.0 640.3,218.3 632.8,220.1 625.1,222.6 628.8,228.8 631.3,236.3 632.6,238.1 642.6,237.6 650.1,236.3 652.6,230.1 656.3,223.8 658.8,216.3 662.6,211.3 658.8,207.5 660.1,201.3"/>
<polygon fill="#DFC27D" points="660.1,201.3 665.1,205.0 671.4,212.5 677.6,220.1 679.6,225.6 685.1,229.6 695.1,233.1 702.6,234.6 706.4,235.6 707.6,232.6 707.6,229.6 713.9,229.1 718.9,226.3 726.4,228.8 726.4,232.6 722.7,236.3 720.2,245.1 716.4,247.6 714.7,241.3 713.2,234.6 706.4,235.6 706.4,242.6 707.6,245.1 705.1,250.1 700.1,257.6 693.9,266.3 690.1,275.1 687.6,285.1 682.6,292.6 677.6,286.4 671.4,275.1 666.4,263.8 662.6,252.6 661.4,245.1 656.3,247.6 651.3,242.6 656.3,241.3 650.1,236.3 652.6,230.1 656.3,223.8 658.8,216.3 662.6,211.3 658.8,207.5"/>
<polygon fill="#BF812D" points="678.9,221.3 685.1,223.8 696.4,228.8 702.6,231.3 702.6,234.6 695.1,233.1 685.1,229.6 679.6,225.6"/>
<polygon fill="#F6E8C3" points="706.4,235.6 713.2,234.6 714.7,241.3 716.4,247.6 710.2,247.6 706.4,242.6"/>
<polygon fill="#8C510A" points="686.4,289.6 690.1,291.4 692.6,296.4 690.1,301.4 687.1,298.9 685.9,293.9"/>
<polygon fill="#eaf3ee" points="704.1,229.1 711.4,228.3 713.7,231.3 710.2,234.3 704.9,234.1"/>
<polygon fill="#DFC27D" points="710.0,230.0 713.8,228.8 717.5,226.9 722.5,225.6 726.3,226.9 730.7,230.0 732.5,235.0 733.8,240.0 736.9,243.8 740.7,248.2 740.1,251.9 736.9,255.7 735.7,260.7 735.7,268.8 738.2,277.6 739.4,285.1 740.7,283.9 739.4,275.1 736.3,266.3 734.4,266.3 730.0,269.5 726.9,267.6 725.7,261.3 722.5,256.3 720.0,251.3 718.8,246.3 716.3,241.3 713.8,237.5 710.0,237.5"/>
<polygon fill="#C7EAE5" points="736.9,255.7 740.1,255.1 743.2,257.6 745.1,262.6 748.8,261.3 753.8,262.6 757.6,268.2 758.2,273.2 752.6,274.5 750.1,278.9 747.6,280.1 743.8,278.9 741.3,280.1 740.1,285.1 741.3,290.1 743.8,297.0 740.7,297.0 739.4,285.1 738.2,277.6 735.7,268.8 735.7,260.7"/>
<polygon fill="#DFC27D" points="741.3,247.5 744.4,248.2 748.8,247.5 751.3,251.9 753.8,255.7 755.7,258.8 758.8,262.6 763.2,268.2 765.1,273.2 761.4,274.5 758.2,273.2 757.6,268.2 753.8,262.6 748.8,261.3 745.1,262.6 743.2,257.6 740.7,251.9 740.7,248.2"/>
<polygon fill="#F6E8C3" points="748.8,247.5 753.2,245.7 757.6,246.3 761.4,249.4 759.5,252.6 756.3,256.3 758.2,260.1 762.6,265.1 767.0,270.1 770.1,276.4 772.0,281.4 768.9,285.7 763.9,288.9 760.7,290.8 759.5,288.3 763.9,285.1 765.7,280.7 765.1,273.2 763.2,268.2 758.8,262.6 755.7,258.8 753.8,255.7 751.3,251.9"/>
<polygon fill="#BF812D" points="750.1,278.9 752.6,274.5 758.2,273.8 761.4,274.5 765.1,273.8 765.7,280.1 763.9,285.1 759.5,287.0 755.1,286.4 752.0,283.2"/>
<polygon fill="#80CDC1" points="767.0,255.1 770.1,253.2 772.6,255.1 772.0,258.8 768.9,260.7 766.4,258.2"/>
<polygon fill="#b4bcbb" points="797.7,238.8 800.8,238.2 800.8,248.2 798.3,248.8"/>
<polygon fill="#F6E8C3" points="801.4,261.9 805.2,260.7 807.1,263.8 806.4,268.8 804.6,273.2 808.9,275.1 814.0,277.6 812.1,279.5 807.7,278.2 803.9,275.7 802.1,271.3 801.2,266.3"/>
<polygon fill="#F6E8C3" points="810.2,280.1 817.7,281.4 820.2,285.1 816.5,287.6 811.5,286.4 809.6,283.2"/>
<polygon fill="#F6E8C3" points="814.0,292.6 820.2,291.4 822.7,294.5 821.5,297.6 817.7,300.2 814.0,297.6"/>
<polygon fill="#c9c2a4" points="796.4,292.0 802.1,285.1 802.7,286.0 797.3,292.9"/>
<polygon fill="#C7EAE5" points="740.0,288.8 743.8,293.8 746.3,299.5 744.5,300.5 741.3,295.0"/>
<polygon fill="#35978F" points="745.0,300.0 750.0,301.3 755.0,308.8 758.0,317.5 755.0,317.0 750.0,311.3 746.3,305.0"/>
<polygon fill="#C7EAE5" points="733.8,305.0 738.8,305.0 745.0,312.5 753.8,321.3 761.3,330.1 763.0,338.8 758.8,340.1 752.5,332.6 745.0,322.5 737.5,312.5"/>
<polygon fill="#C7EAE5" points="762.5,341.3 770.1,342.6 780.1,345.1 788.8,348.8 787.6,350.8 777.6,348.8 767.5,346.3 763.0,343.8"/>
<polygon fill="#C7EAE5" points="773.8,320.0 781.3,318.8 787.6,315.0 792.6,310.0 798.1,308.0 798.8,317.5 795.1,326.3 792.6,332.6 785.1,332.6 778.8,330.1 773.8,326.3"/>
<polygon fill="#35978F" points="773.8,317.5 780.1,313.8 787.6,306.3 793.8,298.8 800.6,302.5 798.8,307.5 792.6,310.0 787.6,315.0 781.3,318.8 776.3,320.0"/>
<polygon fill="#C7EAE5" points="803.8,325.0 807.6,322.5 816.3,320.0 815.1,322.5 808.8,325.0 810.1,331.3 813.8,337.6 811.3,338.8 807.6,333.8 805.1,338.8 802.6,337.6 803.8,330.1"/>
<polygon fill="#C7EAE5" points="795.1,350.1 805.1,351.3 805.1,353.1 795.1,352.6"/>
<polygon fill="#F6E8C3" points="812.6,352.6 822.6,350.1 823.1,352.6 813.8,355.1"/>
<polygon fill="#C7EAE5" points="826.4,317.5 828.9,317.5 829.6,322.5 827.1,322.5"/>
<polygon fill="#C7EAE5" points="822.6,331.3 832.6,330.1 832.6,332.6 822.6,333.1"/>
<polygon fill="#C7EAE5" points="836.4,325.0 843.9,326.3 845.1,330.1 850.1,328.8 857.6,327.5 864.6,330.1 863.9,350.1 858.9,348.8 857.1,342.6 852.6,338.8 847.6,336.3 842.6,331.3"/>
<polygon fill="#8C510A" points="864.6,330.1 872.7,333.1 880.2,338.8 883.9,345.1 887.7,351.3 892.2,356.3 887.7,356.3 881.4,352.6 873.9,350.1 867.6,352.6 863.9,350.6"/>
<polygon fill="#8C510A" points="886.4,340.1 892.7,338.8 898.9,333.8 896.4,330.1 900.7,333.8 899.7,338.8 893.9,341.3 887.7,342.1"/>
<polygon fill="#b98a4a" points="905.7,340.1 910.2,344.1 909.4,345.1 905.2,341.1"/>
<polygon fill="#b98a4a" points="913.9,345.6 920.2,349.3 919.4,350.6 913.2,346.8"/>
<polygon fill="#b98a4a" points="921.5,352.6 925.2,357.6 924.2,358.1 920.7,353.3"/>
<polygon fill="#BF812D" points="936.5,370.1 938.2,370.1 938.2,376.3 936.7,376.3"/>
<polygon fill="#35978F" points="924.7,388.9 927.2,389.6 932.2,395.6 930.2,396.6 925.7,392.1"/>
<polygon fill="#C7EAE5" points="966.5,378.8 974.0,375.1 974.8,376.3 967.7,381.4"/>
<polygon fill="#01665E" points="778.8,400.1 785.1,393.9 795.1,390.1 802.6,385.1 806.3,378.8 813.8,373.8 820.1,367.6 827.6,366.3 832.6,361.3 837.6,359.6 842.6,362.6 850.1,362.6 848.9,368.8 853.9,375.1 858.9,380.1 862.6,373.8 863.9,365.1 867.6,358.8 870.2,365.1 872.7,375.1 875.2,382.6 881.4,390.1 885.2,400.1 888.9,410.1 888.2,411.3 883.9,420.0 877.7,428.8 870.2,436.3 863.9,443.8 856.4,447.6 848.9,450.1 840.1,448.8 835.1,441.3 833.9,433.8 828.9,437.1 827.6,431.3 822.6,427.5 812.6,427.5 800.1,430.1 787.6,435.1 778.8,438.1 772.6,435.1 776.3,430.1 777.6,423.8 776.3,410.0 778.8,400.0"/>
<polygon fill="#01665E" points="841.4,457.6 851.4,457.1 847.6,463.8 841.4,466.3 839.6,462.6"/>
<polygon fill="#01665E" points="930.2,437.6 932.7,438.8 934.0,445.6 939.7,446.3 936.5,451.3 931.5,453.1 926.5,458.1 922.2,459.6 924.0,453.8 929.0,448.8 930.2,443.8"/>
<polygon fill="#01665E" points="918.9,456.3 920.2,459.6 912.7,465.1 903.9,471.3 895.2,476.3 888.2,475.1 892.7,471.3 901.4,466.3 910.2,460.6"/>
<polygon fill="#eef6f4" points="587.6,168.8 590.3,168.5 590.7,171.0 588.2,171.3"/>
<polygon fill="#cfe3de" points="628.0,483.5 630.5,483.0 631.5,485.0 629.0,486.5"/>
<polygon fill="#b9dcd5" points="273.5,264.1 274.7,263.8 274.8,265.1 273.7,265.3"/>
<polygon fill="#b9dcd5" points="276.0,275.7 277.2,275.6 277.3,276.9 276.2,277.1"/>
<polygon fill="#b9dcd5" points="279.0,277.6 280.2,277.6 280.2,278.9 279.1,278.9"/>
<polygon fill="#80CDC1" points="436.4,202.1 443.5,202.1 450.1,203.2 449.4,207.9 448.5,214.1 443.5,217.3 435.7,222.0 429.7,229.2 422.3,230.7 420.0,231.4 418.1,231.8 419.2,227.1 426.3,216.7 431.7,209.5"/>
<polygon fill="#01665E" points="263.2,98.8 266.0,103.0 270.7,101.6 273.5,97.8 276.3,96.0 280.1,97.4 279.1,100.2 275.4,103.5 270.7,105.4 266.0,105.8 263.2,107.2 258.5,110.1 260.4,108.2 264.8,103.5" stroke="none"/>
</g>
<defs><pattern id="ht" width="3" height="3" patternUnits="userSpaceOnUse" patternTransform="rotate(45)"><rect width="3" height="3" fill="#fff"/><rect width="1" height="3" fill="#dcdcdc"/></pattern></defs>
<rect x="77.5" y="556.2" width="38.3" height="8.2" fill="url(#ht)" stroke="#c4d3cf" stroke-width="0.6"/>
<rect x="131.70" y="556.4" width="46.73" height="7.8" fill="#543005"/>
<rect x="178.23" y="556.4" width="46.73" height="7.8" fill="#8C510A"/>
<rect x="224.76" y="556.4" width="46.73" height="7.8" fill="#BF812D"/>
<rect x="271.29" y="556.4" width="46.73" height="7.8" fill="#DFC27D"/>
<rect x="317.82" y="556.4" width="46.73" height="7.8" fill="#F6E8C3"/>
<rect x="364.35" y="556.4" width="46.73" height="7.8" fill="#C7EAE5"/>
<rect x="410.88" y="556.4" width="46.73" height="7.8" fill="#80CDC1"/>
<rect x="457.41" y="556.4" width="46.73" height="7.8" fill="#35978F"/>
<rect x="503.94" y="556.4" width="46.73" height="7.8" fill="#01665E"/>
<rect x="550.47" y="556.4" width="46.73" height="7.8" fill="#003C30"/>
<g font-family="Liberation Sans, sans-serif" font-size="10.2" fill="#3f3f3f" text-anchor="middle">
<text x="96.6" y="550.6">No data</text>
<text x="131.7" y="550.6">0%</text>
<line x1="131.7" y1="553.8" x2="131.7" y2="556.4" stroke="#bbb" stroke-width="0.5"/>
<text x="178.2" y="550.6">10%</text>
<line x1="178.2" y1="553.8" x2="178.2" y2="556.4" stroke="#bbb" stroke-width="0.5"/>
<text x="224.8" y="550.6">20%</text>
<line x1="224.8" y1="553.8" x2="224.8" y2="556.4" stroke="#bbb" stroke-width="0.5"/>
<text x="271.3" y="550.6">30%</text>
<line x1="271.3" y1="553.8" x2="271.3" y2="556.4" stroke="#bbb" stroke-width="0.5"/>
<text x="317.8" y="550.6">40%</text>
<line x1="317.8" y1="553.8" x2="317.8" y2="556.4" stroke="#bbb" stroke-width="0.5"/>
<text x="364.4" y="550.6">50%</text>
<line x1="364.4" y1="553.8" x2="364.4" y2="556.4" stroke="#bbb" stroke-width="0.5"/>
<text x="410.9" y="550.6">60%</text>
<line x1="410.9" y1="553.8" x2="410.9" y2="556.4" stroke="#bbb" stroke-width="0.5"/>
<text x="457.4" y="550.6">70%</text>
<line x1="457.4" y1="553.8" x2="457.4" y2="556.4" stroke="#bbb" stroke-width="0.5"/>
<text x="503.9" y="550.6">80%</text>
<line x1="503.9" y1="553.8" x2="503.9" y2="556.4" stroke="#bbb" stroke-width="0.5"/>
<text x="550.5" y="550.6">90%</text>
<line x1="550.5" y1="553.8" x2="550.5" y2="556.4" stroke="#bbb" stroke-width="0.5"/>
<text x="597.0" y="550.6">100%</text>
<line x1="597.0" y1="553.8" x2="597.0" y2="556.4" stroke="#bbb" stroke-width="0.5"/>
</g>
</svg>
</body></html>
